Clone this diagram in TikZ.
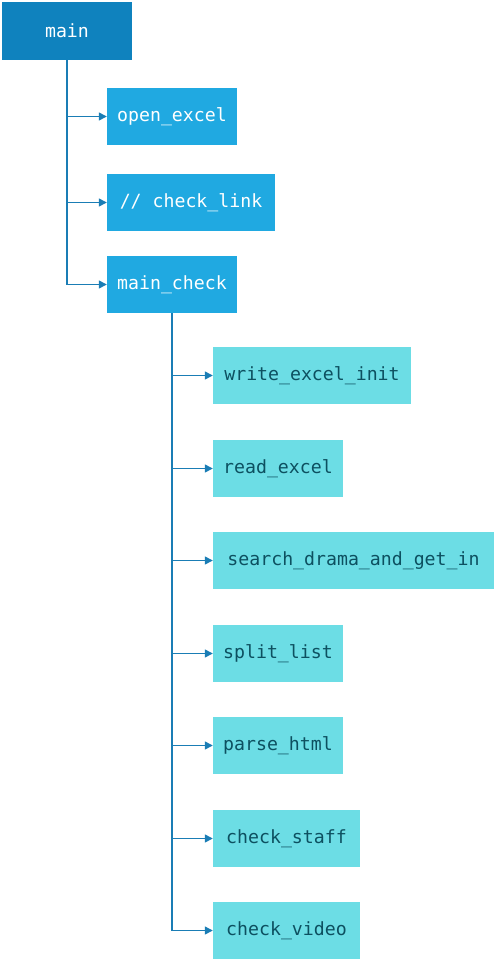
\documentclass[tikz,border=0pt]{standalone}
\usepackage{fontspec}
\setmonofont{DejaVu Sans Mono}
\usetikzlibrary{arrows.meta}
\definecolor{rootc}{HTML}{0F82BE}
\definecolor{lvlone}{HTML}{20A9E1}
\definecolor{lvltwo}{HTML}{6CDDE5}
\definecolor{txttwo}{HTML}{0D5060}
\definecolor{linec}{HTML}{1A7DB5}
\begin{document}
\begin{tikzpicture}[x=1pt,y=-1pt,
  box/.style={inner sep=0pt, minimum height=57pt, font=\ttfamily\fontsize{18.2}{21}\selectfont},
  rootbox/.style={box, fill=rootc, text=white, minimum height=58pt},
  onebox/.style={box, fill=lvlone, text=white},
  twobox/.style={box, fill=lvltwo, text=txttwo},
  conn/.style={draw=linec, line width=1.3pt, -{Triangle[length=8pt,width=8pt]}}]
\useasboundingbox (0,0) rectangle (496,962);
\node[rootbox, minimum width=130pt] (main) at (67,31) {main};
\node[onebox, minimum width=130pt] (open) at (172,116.5) {open\_excel};
\node[onebox, minimum width=168pt] (link) at (191,202.5) {// check\_link};
\node[onebox, minimum width=130pt] (mc) at (172,284.5) {main\_check};
\node[twobox, minimum width=198pt] (wei) at (312,375.5) {write\_excel\_init};
\node[twobox, minimum width=130pt] (re) at (278,468.5) {read\_excel};
\node[twobox, minimum width=281pt] (sd) at (353.5,560.5) {search\_drama\_and\_get\_in};
\node[twobox, minimum width=130pt] (sl) at (278,653.5) {split\_list};
\node[twobox, minimum width=130pt] (ph) at (278,745.5) {parse\_html};
\node[twobox, minimum width=147pt] (cs) at (286.5,838.5) {check\_staff};
\node[twobox, minimum width=147pt] (cv) at (286.5,930.5) {check\_video};
\foreach \t in {open,link,mc} \draw[conn] (main.south) |- (\t.west);
\foreach \t in {wei,re,sd,sl,ph,cs,cv} \draw[conn] (mc.south) |- (\t.west);
\end{tikzpicture}
\end{document}
